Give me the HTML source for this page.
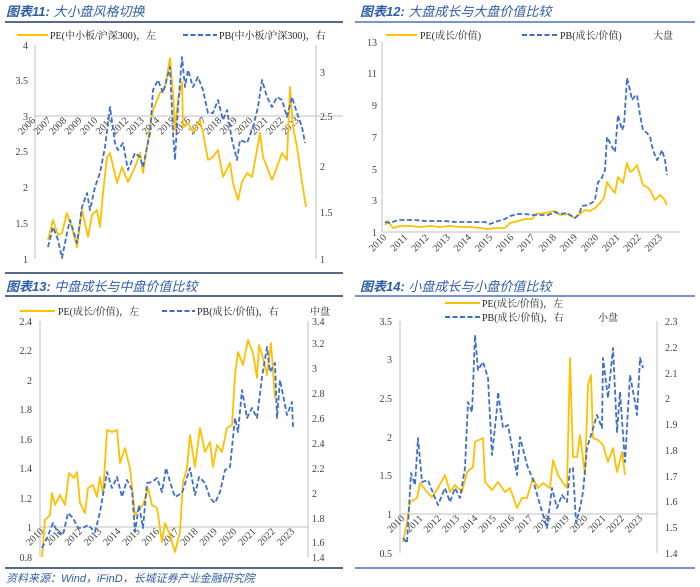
<!DOCTYPE html>
<html><head><meta charset="utf-8"><style>
body{margin:0;background:#fff}
svg{display:block}
.t{font-family:"Liberation Serif","Noto Serif CJK SC",serif;font-size:10px;fill:#404040}
.h{font-family:"Liberation Sans","Noto Sans CJK SC",sans-serif;font-size:13px;fill:#2f5ea8;font-style:italic}
.l{font-family:"Liberation Serif","Noto Serif CJK SC",serif;font-size:10px;fill:#262626}
.pe{fill:none;stroke:#ffc000;stroke-width:1.8;stroke-linejoin:round}
.pb{fill:none;stroke:#3e6fc8;stroke-width:1.8;stroke-dasharray:5,2.5;stroke-linejoin:round}
.ax{stroke:#bfbfbf;stroke-width:1;fill:none}
</style></head><body>
<svg width="700" height="587" viewBox="0 0 700 587" xmlns="http://www.w3.org/2000/svg">
<!-- Titles -->
<text class="h" x="6" y="16"><tspan font-weight="bold">图表11:</tspan> 大小盘风格切换</text>
<text class="h" x="360" y="16"><tspan font-weight="bold">图表12:</tspan> 大盘成长与大盘价值比较</text>
<text class="h" x="6" y="291"><tspan font-weight="bold">图表13:</tspan> 中盘成长与中盘价值比较</text>
<text class="h" x="360" y="291"><tspan font-weight="bold">图表14:</tspan> 小盘成长与小盘价值比较</text>
<line x1="5" y1="22" x2="343" y2="22" stroke="#1f3864" stroke-width="1.5"/>
<line x1="355" y1="22" x2="695" y2="22" stroke="#4a74b8" stroke-width="1.5"/>
<line x1="5" y1="273" x2="343" y2="273" stroke="#1f3864" stroke-width="1.5"/>
<line x1="355" y1="296" x2="695" y2="296" stroke="#4a74b8" stroke-width="1.5"/>
<line x1="5" y1="296" x2="343" y2="296" stroke="#1f3864" stroke-width="1.5"/>
<line x1="5" y1="568" x2="343" y2="568" stroke="#1f3864" stroke-width="1.5"/>
<line x1="355" y1="568" x2="695" y2="568" stroke="#4a74b8" stroke-width="1.5"/>
<text class="h" x="6" y="582" style="font-size:11px">资料来源：Wind，iFinD，长城证券产业金融研究院</text>

<!-- Panel 11 -->
<line x1="17" y1="35" x2="48" y2="35" stroke="#ffc000" stroke-width="2"/>
<text class="l" x="50" y="39">PE(中小板/沪深300)，左</text>
<line x1="183" y1="35" x2="217" y2="35" class="pb" style="stroke-width:2"/>
<text class="l" x="219" y="39">PB(中小板/沪深300)，右</text>
<line class="ax" x1="35" y1="45" x2="35" y2="259"/>
<line class="ax" x1="316" y1="45" x2="316" y2="259"/>
<line class="ax" x1="35" y1="116" x2="343" y2="116"/>
<g class="t" text-anchor="end">
<text x="28" y="49">4</text><text x="28" y="84">3.5</text><text x="28" y="120">3</text><text x="28" y="155">2.5</text><text x="28" y="191">2</text><text x="28" y="227">1.5</text><text x="28" y="263">1</text>
</g>
<g class="t">
<text x="320" y="76">3</text><text x="320" y="120">2.5</text><text x="320" y="170">2</text><text x="320" y="216">1.5</text><text x="320" y="263">1</text>
</g>
<g class="t" text-anchor="end" font-size="9">
<text transform="translate(36,121) rotate(-45)">2006</text>
<text transform="translate(51.5,121) rotate(-45)">2007</text>
<text transform="translate(67,121) rotate(-45)">2008</text>
<text transform="translate(82.5,121) rotate(-45)">2009</text>
<text transform="translate(98,121) rotate(-45)">2010</text>
<text transform="translate(113.5,121) rotate(-45)">2011</text>
<text transform="translate(129,121) rotate(-45)">2012</text>
<text transform="translate(144.5,121) rotate(-45)">2013</text>
<text transform="translate(160,121) rotate(-45)">2014</text>
<text transform="translate(175.5,121) rotate(-45)">2015</text>
<text transform="translate(191,121) rotate(-45)">2016</text>
<text transform="translate(206.5,121) rotate(-45)">2017</text>
<text transform="translate(222,121) rotate(-45)">2018</text>
<text transform="translate(237.5,121) rotate(-45)">2019</text>
<text transform="translate(253,121) rotate(-45)">2020</text>
<text transform="translate(268.5,121) rotate(-45)">2021</text>
<text transform="translate(284,121) rotate(-45)">2022</text>
<text transform="translate(299.5,121) rotate(-45)">2023</text>
</g>
<polyline class="pe" points="48,240 53,220 58,235 62,233 67,213 72,228 77,247 82,210 88,237 92,215 97,210 100,227 103,193 107,157 110,153 114,170 117,183 122,167 128,182 135,167 140,153 143,173 148,140 153,110 160,93 165,87 170,58 173,93 175,130 178,100 182,82 183,127 188,123 193,132 200,120 203,133 208,160 213,157 218,150 223,177 230,163 233,183 238,200 242,182 247,173 252,177 257,150 260,133 263,157 267,167 272,180 277,167 282,153 287,160 290,87 293,127 297,147 302,182 306,207"/>
<polyline class="pb" points="48,247 53,227 58,240 62,258 67,233 70,220 77,243 82,207 87,193 90,210 95,187 100,173 105,147 110,107 115,143 118,150 123,143 128,170 135,153 140,157 143,167 150,133 153,90 158,80 163,93 170,67 173,133 175,160 178,107 182,57 185,87 188,70 193,87 198,77 203,90 208,113 213,113 218,100 223,120 227,110 232,140 237,160 240,140 247,143 253,127 258,107 262,80 267,97 272,107 277,97 282,100 287,117 292,97 297,113 302,127 305,143"/>

<!-- Panel 12 -->
<line x1="386" y1="35" x2="417" y2="35" stroke="#ffc000" stroke-width="2"/>
<text class="l" x="420" y="39">PE(成长/价值)</text>
<line x1="522" y1="35" x2="557" y2="35" class="pb" style="stroke-width:2"/>
<text class="l" x="560" y="39">PB(成长/价值)</text>
<text class="l" x="653" y="39" font-size="11">大盘</text>
<line class="ax" x1="382" y1="42" x2="382" y2="232"/>
<line class="ax" x1="382" y1="232" x2="680" y2="232"/>
<g class="t" text-anchor="end">
<text x="377" y="46">13</text><text x="377" y="77">11</text><text x="377" y="109">9</text><text x="377" y="141">7</text><text x="377" y="173">5</text><text x="377" y="204">3</text><text x="377" y="236">1</text>
</g>
<g class="t" text-anchor="end" font-size="9">
<text transform="translate(387,238) rotate(-45)">2010</text>
<text transform="translate(408.2,238) rotate(-45)">2011</text>
<text transform="translate(429.4,238) rotate(-45)">2012</text>
<text transform="translate(450.6,238) rotate(-45)">2013</text>
<text transform="translate(471.8,238) rotate(-45)">2014</text>
<text transform="translate(493,238) rotate(-45)">2015</text>
<text transform="translate(514.2,238) rotate(-45)">2016</text>
<text transform="translate(535.4,238) rotate(-45)">2017</text>
<text transform="translate(556.6,238) rotate(-45)">2018</text>
<text transform="translate(577.8,238) rotate(-45)">2019</text>
<text transform="translate(599,238) rotate(-45)">2020</text>
<text transform="translate(620.2,238) rotate(-45)">2021</text>
<text transform="translate(641.4,238) rotate(-45)">2022</text>
<text transform="translate(662.6,238) rotate(-45)">2023</text>
</g>
<polyline class="pe" points="385,225 388,221 393,228 400,226 410,226 420,227 430,226 440,227 450,226 460,227 470,227 480,228 488,229 495,228 505,228 510,223 518,221 525,219 532,219 536,214 545,213 555,211 560,215 567,214 575,218 580,214 585,210 590,211 595,208 600,203 604,198 607,182 611,188 615,193 618,177 623,183 627,163 630,172 633,170 637,165 640,175 643,185 647,187 650,190 655,200 660,195 664,199 667,205"/>
<polyline class="pb" points="385,222 390,223 395,221 400,220 408,220 415,220 425,221 435,221 445,221 455,222 465,222 475,222 485,222 490,224 498,221 505,219 510,216 518,214 525,214 532,215 540,215 548,215 555,212 560,214 567,213 575,218 579,214 582,206 588,205 593,202 595,200 598,182 601,180 605,170 607,137 611,145 615,152 618,115 622,130 624,125 627,78 630,90 632,100 635,96 637,95 640,115 643,130 647,133 650,137 653,150 657,160 660,155 662,150 665,160 667,175"/>

<!-- Panel 13 -->
<line x1="20" y1="311" x2="55" y2="311" stroke="#ffc000" stroke-width="2"/>
<text class="l" x="58" y="315">PE(成长/价值)，左</text>
<line x1="162" y1="311" x2="195" y2="311" class="pb" style="stroke-width:2"/>
<text class="l" x="197" y="315">PB(成长/价值)，右</text>
<text class="l" x="310" y="315" font-size="11">中盘</text>
<line class="ax" x1="40" y1="321" x2="40" y2="557"/>
<line class="ax" x1="308" y1="321" x2="308" y2="557"/>
<line class="ax" x1="40" y1="527" x2="308" y2="527"/>
<g class="t" text-anchor="end">
<text x="32" y="325">2.4</text><text x="32" y="354">2.2</text><text x="32" y="384">2</text><text x="32" y="413">1.8</text><text x="32" y="443">1.6</text><text x="32" y="472">1.4</text><text x="32" y="502">1.2</text><text x="32" y="531">1</text><text x="32" y="561">0.8</text>
</g>
<g class="t">
<text x="312" y="325">3.4</text><text x="312" y="347">3.2</text><text x="312" y="372">3</text><text x="312" y="397">2.8</text><text x="312" y="422">2.6</text><text x="312" y="447">2.4</text><text x="312" y="472">2.2</text><text x="312" y="497">2</text><text x="312" y="522">1.8</text><text x="312" y="546">1.6</text><text x="312" y="561">1.4</text>
</g>
<g class="t" text-anchor="end" font-size="9">
<text transform="translate(44,532) rotate(-45)">2010</text>
<text transform="translate(63.3,532) rotate(-45)">2011</text>
<text transform="translate(82.6,532) rotate(-45)">2012</text>
<text transform="translate(101.9,532) rotate(-45)">2013</text>
<text transform="translate(121.2,532) rotate(-45)">2014</text>
<text transform="translate(140.5,532) rotate(-45)">2015</text>
<text transform="translate(159.8,532) rotate(-45)">2016</text>
<text transform="translate(179.1,532) rotate(-45)">2017</text>
<text transform="translate(198.4,532) rotate(-45)">2018</text>
<text transform="translate(217.7,532) rotate(-45)">2019</text>
<text transform="translate(237,532) rotate(-45)">2020</text>
<text transform="translate(256.3,532) rotate(-45)">2021</text>
<text transform="translate(275.6,532) rotate(-45)">2022</text>
<text transform="translate(294.9,532) rotate(-45)">2023</text>
</g>
<polyline class="pe" points="42,557 45,520 50,515 52,493 55,505 60,495 65,505 69,473 74,478 77,472 80,503 85,513 88,488 93,485 97,497 100,477 103,495 107,430 112,432 117,430 120,463 125,448 130,468 135,515 140,508 143,505 148,488 152,505 157,508 162,542 165,523 170,535 175,552 180,532 183,482 187,468 190,435 195,467 200,428 205,452 210,442 213,467 217,445 222,452 227,428 232,425 235,375 238,352 243,365 248,340 253,353 257,378 259,345 263,358 267,375 271,343 275,398"/>
<polyline class="pb" points="42,548 47,538 53,523 58,533 63,535 68,513 73,518 78,528 83,528 88,525 95,532 100,512 107,472 112,488 117,477 122,497 127,480 132,490 135,532 139,505 143,528 147,483 152,482 157,478 162,492 166,468 170,482 175,497 182,493 190,468 195,495 199,477 205,483 210,498 215,503 220,492 225,470 230,467 235,418 238,432 242,390 247,418 252,408 257,418 262,377 267,347 270,372 275,363 277,418 280,380 287,415 292,402 293,428"/>

<!-- Panel 14 -->
<line x1="445" y1="303" x2="480" y2="303" stroke="#ffc000" stroke-width="2"/>
<text class="l" x="482" y="307">PE(成长/价值)，左</text>
<line x1="445" y1="317" x2="480" y2="317" class="pb" style="stroke-width:2"/>
<text class="l" x="482" y="321">PB(成长/价值)，右</text>
<text class="l" x="598" y="321" font-size="11">小盘</text>
<line class="ax" x1="400" y1="321" x2="400" y2="553"/>
<line class="ax" x1="657" y1="321" x2="657" y2="553"/>
<line class="ax" x1="400" y1="514" x2="657" y2="514"/>
<g class="t" text-anchor="end">
<text x="392" y="325">3.5</text><text x="392" y="363">3</text><text x="392" y="402">2.5</text><text x="392" y="441">2</text><text x="392" y="479">1.5</text><text x="392" y="518">1</text><text x="392" y="557">0.5</text>
</g>
<g class="t">
<text x="665" y="325">2.3</text><text x="665" y="351">2.2</text><text x="665" y="377">2.1</text><text x="665" y="402">2</text><text x="665" y="428">1.9</text><text x="665" y="454">1.8</text><text x="665" y="480">1.7</text><text x="665" y="505">1.6</text><text x="665" y="531">1.5</text><text x="665" y="557">1.4</text>
</g>
<g class="t" text-anchor="end" font-size="9">
<text transform="translate(405,519) rotate(-45)">2010</text>
<text transform="translate(423.3,519) rotate(-45)">2011</text>
<text transform="translate(441.6,519) rotate(-45)">2012</text>
<text transform="translate(459.9,519) rotate(-45)">2013</text>
<text transform="translate(478.2,519) rotate(-45)">2014</text>
<text transform="translate(496.5,519) rotate(-45)">2015</text>
<text transform="translate(514.8,519) rotate(-45)">2016</text>
<text transform="translate(533.1,519) rotate(-45)">2017</text>
<text transform="translate(551.4,519) rotate(-45)">2018</text>
<text transform="translate(569.7,519) rotate(-45)">2019</text>
<text transform="translate(588,519) rotate(-45)">2020</text>
<text transform="translate(606.3,519) rotate(-45)">2021</text>
<text transform="translate(624.6,519) rotate(-45)">2022</text>
<text transform="translate(642.9,519) rotate(-45)">2023</text>
</g>
<polyline class="pe" points="403,542 407,522 410,502 417,498 420,483 427,492 432,497 438,488 445,475 450,492 455,485 462,492 467,472 473,467 475,442 483,438 485,482 492,490 498,482 505,492 510,488 517,508 522,498 527,498 533,478 538,488 543,483 550,488 553,460 558,475 563,483 567,488 570,358 573,457 577,457 580,435 585,475 588,385 591,375 593,438 598,440 603,445 608,462 613,448 617,472 622,452 625,475"/>
<polyline class="pb" points="403,538 407,543 411,473 415,485 418,438 422,482 428,480 433,493 438,505 445,488 450,502 455,488 460,498 465,468 468,402 472,412 475,335 478,370 483,362 488,378 492,455 497,408 498,392 503,428 508,425 517,475 520,437 527,465 533,480 540,505 547,528 552,488 557,508 562,495 567,502 570,468 573,468 576,523 580,508 583,492 587,448 592,432 597,415 602,428 603,358 608,398 613,348 617,432 620,392 625,462 630,375 635,402 637,415 640,358 643,368"/>
</svg>
</body></html>
